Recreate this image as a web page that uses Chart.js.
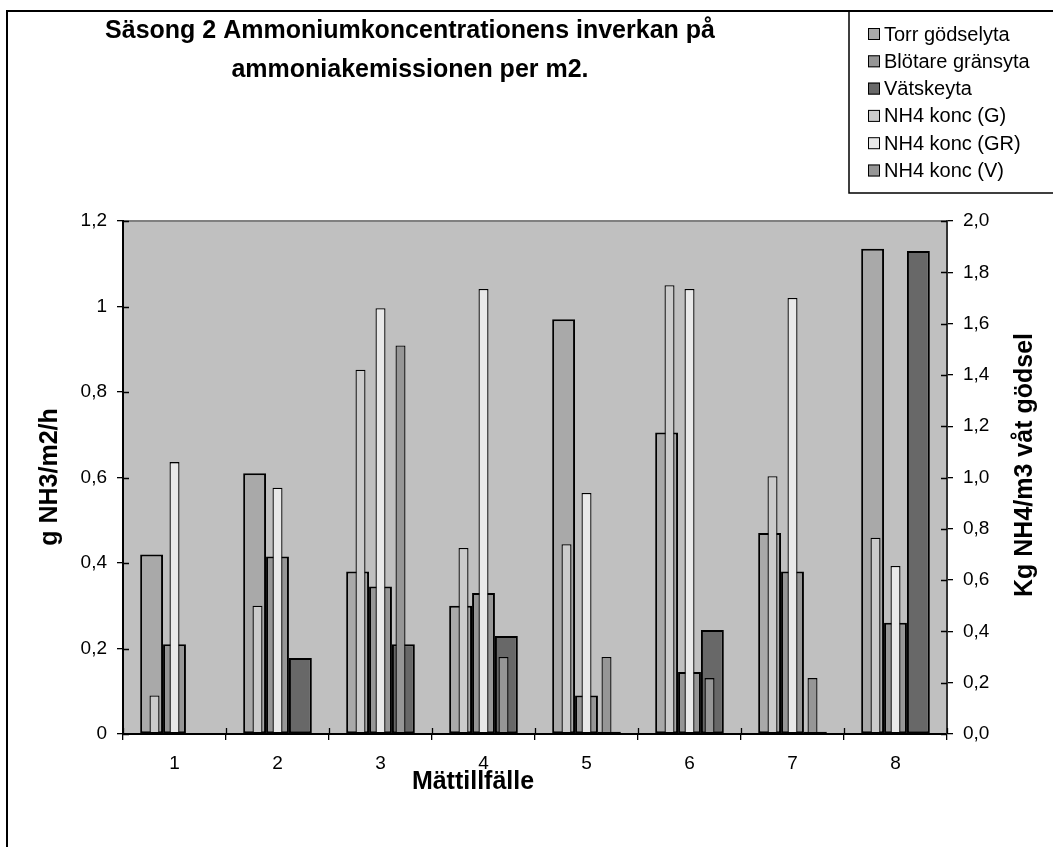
<!DOCTYPE html>
<html>
<head>
<meta charset="utf-8">
<script src="https://cdn.jsdelivr.net/npm/chart.js@4/dist/chart.umd.min.js"></script>
<style>
  html, body { margin: 0; padding: 0; background: #ffffff; }
  #wrap { width: 1053px; height: 847px; }
</style>
</head>
<body>
<div id="wrap"><canvas id="c" width="1053" height="847"></canvas></div>
<script>
// Mättillfällen (measurement occasions)
const categories = ['1', '2', '3', '4', '5', '6', '7', '8'];

// Emission per m2, g NH3/m2/h (left axis)
const torrGodselyta    = [0.42, 0.61, 0.38, 0.30, 0.97, 0.705, 0.47, 1.135];
const blotareGransyta  = [0.21, 0.415, 0.345, 0.33, 0.09, 0.145, 0.38, 0.26];
const vatskeyta        = [null, 0.178, 0.21, 0.229, 0.005, 0.243, 0.005, 1.13];

// Ammonium concentration, kg NH4/m3 wet manure (right axis)
const nh4KoncG  = [0.15, 0.50, 1.42, 0.725, 0.74, 1.75, 1.005, 0.765];
const nh4KoncGR = [1.06, 0.96, 1.66, 1.735, 0.94, 1.735, 1.70, 0.655];
const nh4KoncV  = [null, null, 1.515, 0.30, 0.30, 0.218, 0.218, null];

// Tick labels
const leftTickLabels  = ['0', '0,2', '0,4', '0,6', '0,8', '1', '1,2'];
const rightTickLabels = ['0,0', '0,2', '0,4', '0,6', '0,8', '1,0', '1,2', '1,4', '1,6', '1,8', '2,0'];

const titleLines = ['Säsong 2 Ammoniumkoncentrationens inverkan på', 'ammoniakemissionen per m2.'];
const xTitle = 'Mättillfälle';
const yTitle = 'g NH3/m2/h';
const y1Title = 'Kg NH4/m3 våt gödsel';

const FONT = '"Liberation Sans", Arial, sans-serif';

// Wide emission bars and narrow concentration bars share the three slots of each category
const primary = (label, data, color, slot) => ({
  label, data, backgroundColor: color, borderColor: '#000000', borderWidth: 2,
  borderSkipped: false, yAxisID: 'y', stack: slot, order: 1,
  categoryPercentage: 2 / 3, barPercentage: 1.0
});
const secondary = (label, data, color, slot) => ({
  label, data, backgroundColor: color, borderColor: '#000000', borderWidth: 1.3,
  borderSkipped: false, yAxisID: 'y1', stack: slot, order: 0,
  categoryPercentage: 0.5825, barPercentage: 0.5
});

const datasets = [
  primary('Torr gödselyta', torrGodselyta, '#a9a9a9', 'a'),
  primary('Blötare gränsyta', blotareGransyta, '#969696', 'b'),
  primary('Vätskeyta', vatskeyta, '#686868', 'c'),
  secondary('NH4 konc (G)', nh4KoncG, '#cbcbcb', 'a'),
  secondary('NH4 konc (GR)', nh4KoncGR, '#e9e9e9', 'b'),
  secondary('NH4 konc (V)', nh4KoncV, '#969696', 'c')
];

// Frame, plot background, title, axis titles, legend box and crossing tick marks
const chromePlugin = {
  id: 'chrome',
  beforeDraw(chart) {
    const { ctx, chartArea: a } = chart;
    ctx.save();
    ctx.fillStyle = '#ffffff';
    ctx.fillRect(0, 0, chart.width, chart.height);
    ctx.fillStyle = '#c0c0c0';
    ctx.fillRect(a.left, a.top, a.right - a.left, a.bottom - a.top);
    ctx.strokeStyle = '#808080';
    ctx.lineWidth = 2;
    ctx.beginPath();
    ctx.moveTo(a.left, a.top);
    ctx.lineTo(a.right, a.top);
    ctx.stroke();
    // outer frame
    ctx.strokeStyle = '#000000';
    ctx.lineWidth = 2;
    ctx.beginPath();
    ctx.moveTo(7, chart.height + 5);
    ctx.lineTo(7, 11);
    ctx.lineTo(chart.width + 5, 11);
    ctx.stroke();
    ctx.restore();
  },
  afterDraw(chart) {
    const { ctx, chartArea: a, scales } = chart;
    ctx.save();
    // inner halves of the crossing tick marks
    ctx.strokeStyle = '#000000';
    ctx.lineWidth = 1.3;
    ctx.beginPath();
    scales.y.ticks.forEach((t, i) => {
      const py = Math.round(scales.y.getPixelForTick(i)) + 0.5;
      ctx.moveTo(a.left, py); ctx.lineTo(a.left + 6, py);
    });
    scales.y1.ticks.forEach((t, i) => {
      const py = Math.round(scales.y1.getPixelForTick(i)) + 0.5;
      ctx.moveTo(a.right - 6, py); ctx.lineTo(a.right, py);
    });
    const xs = scales.x;
    const half = (xs.getPixelForValue(1) - xs.getPixelForValue(0)) / 2;
    for (let i = 0; i <= categories.length; i++) {
      const px = Math.round(xs.getPixelForValue(i) - half) + 0.5;
      ctx.moveTo(px, a.bottom - 6); ctx.lineTo(px, a.bottom);
    }
    ctx.stroke();

    ctx.fillStyle = '#000000';
    // chart title
    ctx.font = 'bold 25px ' + FONT;
    ctx.textAlign = 'center';
    ctx.textBaseline = 'middle';
    ctx.fillText(titleLines[0], 410, 31);
    ctx.fillText(titleLines[1], 410, 70);

    // axis titles
    ctx.font = 'bold 25px ' + FONT;
    ctx.fillText(xTitle, 473, 782);
    ctx.save();
    ctx.translate(50, 477);
    ctx.rotate(-Math.PI / 2);
    ctx.fillText(yTitle, 0, 0);
    ctx.restore();
    ctx.save();
    ctx.translate(1025, 465);
    ctx.rotate(-Math.PI / 2);
    ctx.fillText(y1Title, 0, 0);
    ctx.restore();

    // legend
    const lx = 849, ly = 11, lb = 193;
    ctx.strokeStyle = '#000000';
    ctx.lineWidth = 1.5;
    ctx.beginPath();
    ctx.moveTo(chart.width + 5, lb);
    ctx.lineTo(lx, lb);
    ctx.lineTo(lx, ly);
    ctx.stroke();
    ctx.font = '20px ' + FONT;
    ctx.textAlign = 'left';
    chart.data.datasets.forEach((ds, i) => {
      const cy = 34 + i * 27.3;
      ctx.fillStyle = ds.backgroundColor;
      ctx.fillRect(868, cy - 6, 12, 12);
      ctx.strokeStyle = '#000000';
      ctx.lineWidth = 1;
      ctx.strokeRect(868.5, cy - 5.5, 11, 11);
      ctx.fillStyle = '#000000';
      ctx.fillText(ds.label, 884, cy + 1);
    });
    ctx.restore();
  }
};

new Chart(document.getElementById('c'), {
  type: 'bar',
  data: { labels: categories, datasets },
  options: {
    responsive: false,
    animation: false,
    events: [],
    layout: { padding: { left: 0, right: 0, top: 221, bottom: 0 } },
    plugins: { legend: { display: false }, title: { display: false }, tooltip: { enabled: false } },
    scales: {
      x: {
        type: 'category', position: 'bottom', offset: true,
        grid: { display: true, drawOnChartArea: false, offset: true, tickLength: 6, color: '#000000', lineWidth: 1.3 },
        border: { display: true, color: '#000000', width: 2 },
        ticks: { color: '#000000', font: { family: FONT, size: 19 }, padding: 12, maxRotation: 0 },
        afterFit: s => { s.height = 113; }
      },
      y: {
        type: 'linear', position: 'left', min: 0, max: 1.2,
        grid: { display: true, drawOnChartArea: false, tickLength: 6, color: '#000000', lineWidth: 1.3 },
        border: { display: true, color: '#000000', width: 2 },
        ticks: {
          stepSize: 0.2, color: '#000000', font: { family: FONT, size: 19 }, padding: 10,
          callback: (v, i) => leftTickLabels[i]
        },
        afterFit: s => { s.width = 123; }
      },
      y1: {
        type: 'linear', position: 'right', min: 0, max: 2.0,
        grid: { display: true, drawOnChartArea: false, tickLength: 6, color: '#000000', lineWidth: 1.3 },
        border: { display: true, color: '#333333', width: 2 },
        ticks: {
          stepSize: 0.2, color: '#000000', font: { family: FONT, size: 19 }, padding: 10,
          callback: (v, i) => rightTickLabels[i]
        },
        afterFit: s => { s.width = 106; }
      }
    }
  },
  plugins: [chromePlugin]
});
</script>
</body>
</html>
